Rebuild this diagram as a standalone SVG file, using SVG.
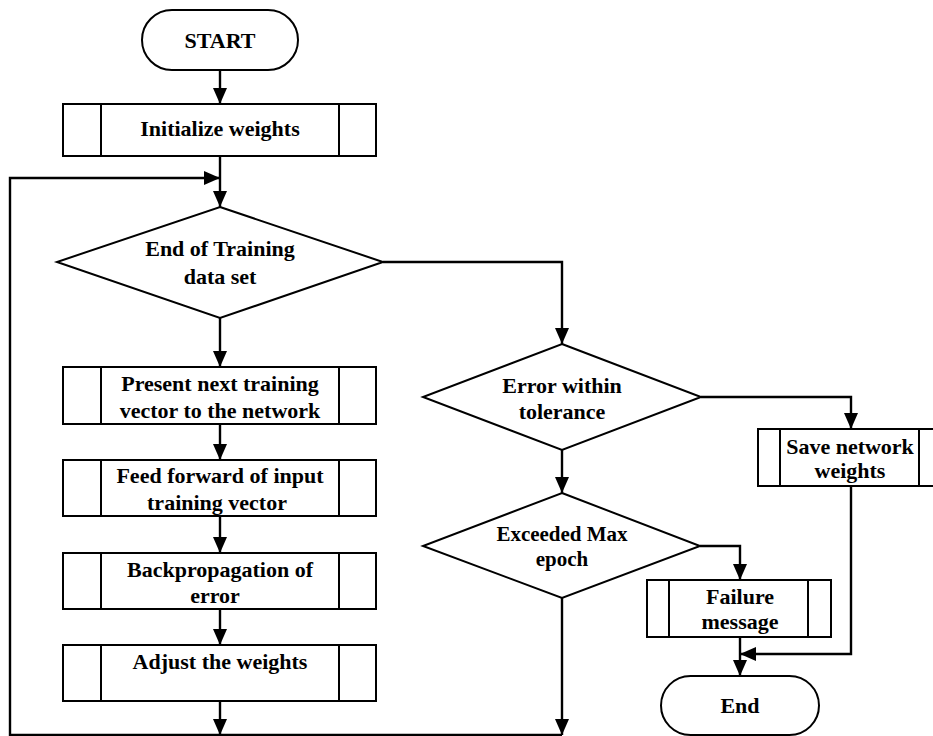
<svg xmlns="http://www.w3.org/2000/svg" width="933" height="736" viewBox="0 0 933 736">
<defs>
<style>
.s{fill:#fff;stroke:#000;stroke-width:2}
.l{fill:none;stroke:#000;stroke-width:2}
.c{fill:none;stroke:#000;stroke-width:2.4}
.a{marker-end:url(#ah)}
text{font-family:"Liberation Serif","Times New Roman",serif;font-weight:bold;font-size:22px;text-anchor:middle;fill:#000}
</style>
<marker id="ah" markerUnits="userSpaceOnUse" markerWidth="16" markerHeight="14" refX="16" refY="7" orient="auto">
<path d="M0,0 L16,7 L0,14 z" fill="#000"/>
</marker>
</defs>
<rect width="933" height="736" fill="#fff"/>
<g id="connectors">
<path class="c a" d="M220,70 V104"/>
<path class="c a" d="M220,156 V207"/>
<path class="c a" d="M220,318 V367"/>
<path class="c a" d="M220,424 V460"/>
<path class="c a" d="M220,516 V553"/>
<path class="c a" d="M220,609 V645"/>
<path class="c a" d="M220,701 V735"/>
<path class="c a" d="M562,598 V735"/>
<path class="c a" d="M562,735 H10 V178 H220"/>
<path class="c a" d="M383,262 H562 V344"/>
<path class="c a" d="M701,397 H851 V429"/>
<path class="c a" d="M562,450 V493"/>
<path class="c a" d="M700,546 H740 V580"/>
<path class="c a" d="M851,486 V654 H740"/>
<path class="c a" d="M740,637 V676"/>
</g>
<g id="start">
<rect class="s" x="142" y="10" width="156" height="60" rx="30" ry="30"/>
<text x="220" y="47.5">START</text>
</g>
<g id="init">
<rect class="s" x="63" y="104" width="313" height="52"/>
<path class="l" d="M101,104 V156 M339,104 V156"/>
<text x="220" y="136">Initialize weights</text>
</g>
<g id="endTraining">
<polygon class="s" points="220,207 383,262 220,318 57,262"/>
<text x="220" y="255.5">End of Training</text>
<text x="220" y="284">data set</text>
</g>
<g id="present">
<rect class="s" x="63" y="367" width="313" height="57"/>
<path class="l" d="M101,367 V424 M339,367 V424"/>
<text x="220" y="390.5">Present next training</text>
<text x="220" y="417.5">vector to the network</text>
</g>
<g id="feed">
<rect class="s" x="63" y="460" width="313" height="56"/>
<path class="l" d="M101,460 V516 M339,460 V516"/>
<text x="220" y="483">Feed forward of input</text>
<text x="217" y="509.5">training vector</text>
</g>
<g id="backprop">
<rect class="s" x="63" y="553" width="313" height="56"/>
<path class="l" d="M101,553 V609 M339,553 V609"/>
<text x="220" y="576.5">Backpropagation of</text>
<text x="215" y="602.5">error</text>
</g>
<g id="adjust">
<rect class="s" x="63" y="645" width="313" height="56"/>
<path class="l" d="M101,645 V701 M339,645 V701"/>
<text x="220" y="669">Adjust the weights</text>
</g>
<g id="errorTol">
<polygon class="s" points="562,344 701,397 562,450 423,397"/>
<text x="562" y="392.5">Error within</text>
<text x="562" y="418.5">tolerance</text>
</g>
<g id="save">
<rect class="s" x="758" y="429" width="183" height="57"/>
<path class="l" d="M780,429 V486 M919,429 V486"/>
<text x="850" y="454">Save network</text>
<text x="850" y="478">weights</text>
</g>
<g id="maxEpoch">
<polygon class="s" points="562,493 700,546 562,598 423,546"/>
<text x="562" y="540.5" style="font-size:21px">Exceeded Max</text>
<text x="562" y="566" style="font-size:21px">epoch</text>
</g>
<g id="failure">
<rect class="s" x="647" y="580" width="184" height="57"/>
<path class="l" d="M669,580 V637 M808,580 V637"/>
<text x="740" y="604">Failure</text>
<text x="740" y="629">message</text>
</g>
<g id="end">
<rect class="s" x="661" y="676" width="158" height="59" rx="29.5" ry="29.5"/>
<text x="740" y="713">End</text>
</g>
</svg>
